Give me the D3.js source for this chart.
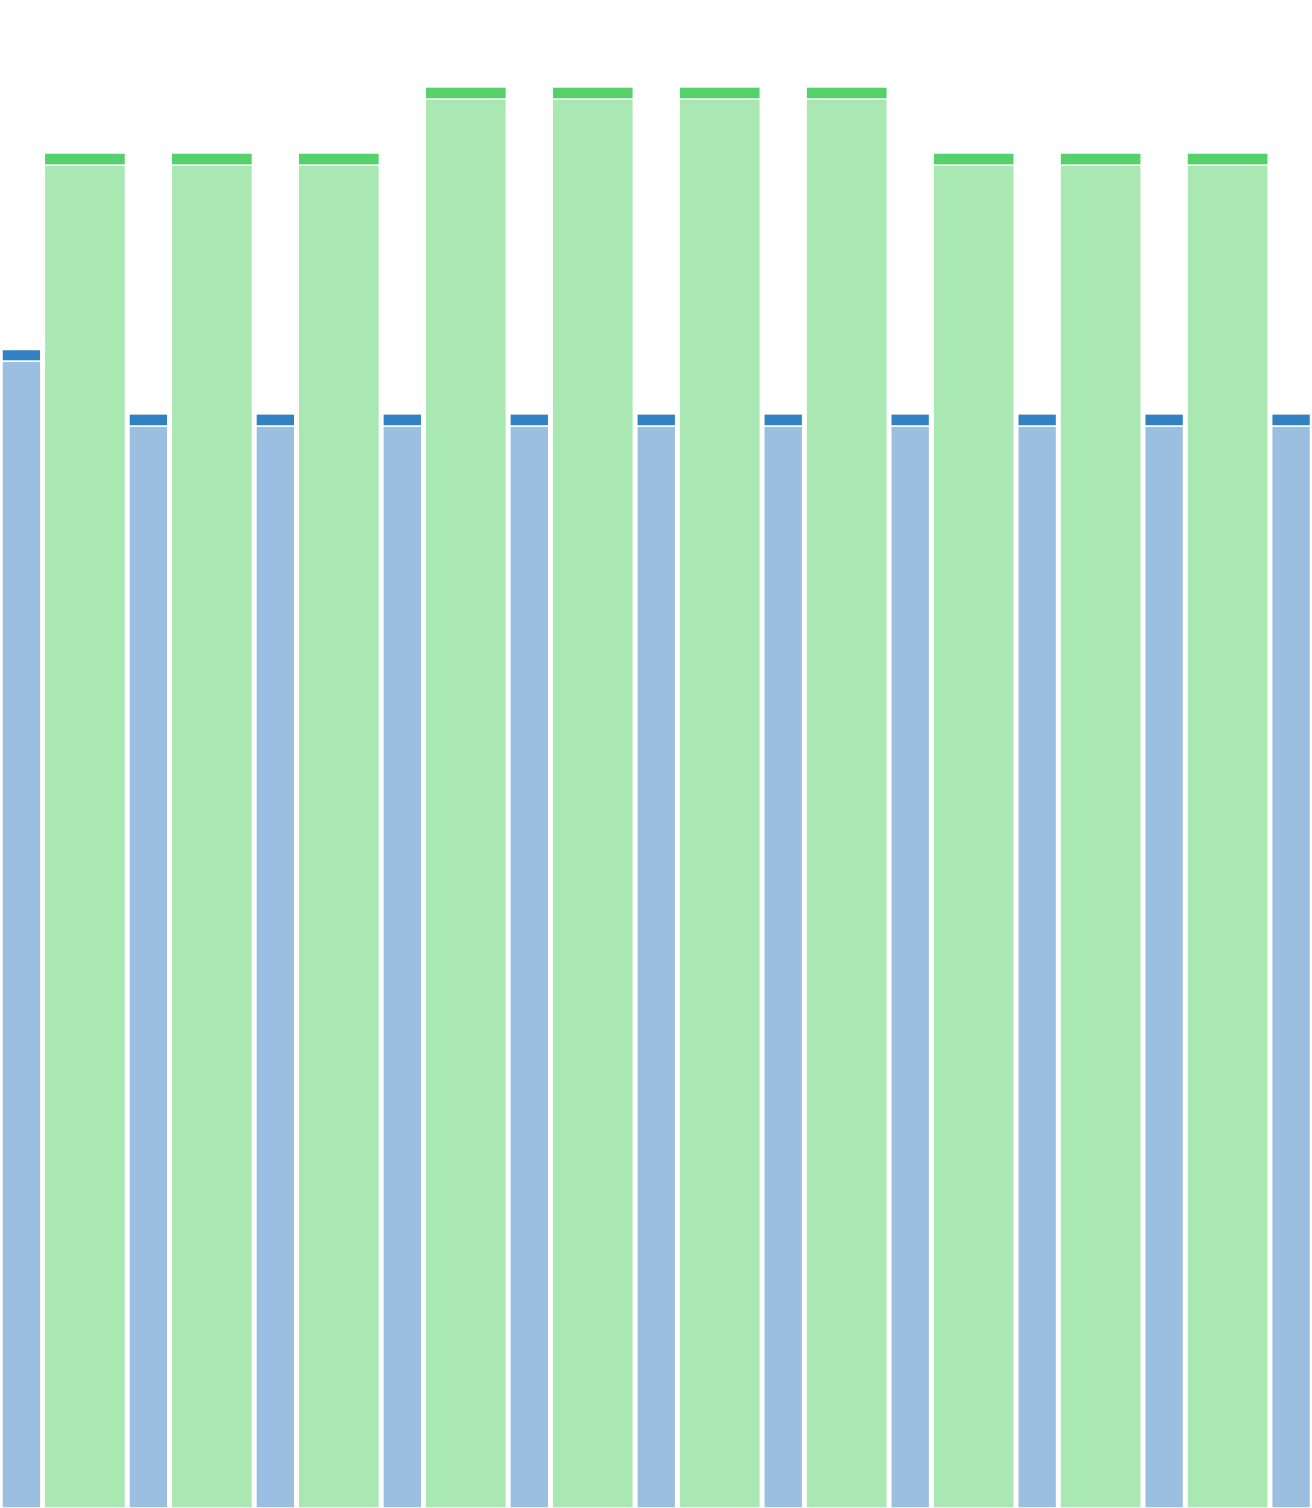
<!DOCTYPE html>
<html>
<head>
<meta charset="utf-8">
<script src="https://cdn.jsdelivr.net/npm/d3@7"></script>
<style>
  body { margin: 0; background: #fff; }
  svg { display: block; }
</style>
</head>
<body>
<div id="chart"></div>
<script>
// bar data, left to right: narrow blue bars alternate with wide green ones
const categories = ["b1","g1","b2","g2","b3","g3","b4","g4","b5","g5","b6",
                    "g6","b7","g7","b8","g8","b9","g9","b10","g10","b11"];
const kinds = categories.map(c => c[0] === "b" ? "blue" : "green");
const widthUnits = [1,2,1,2,1,2,1,2,1,2,1,2,1,2,1,2,1,2,1,2,1];
const baseValues = [104.2,122,98.3,122,98.3,122,98.3,128,98.3,128,98.3,128,98.3,128,98.3,122,98.3,122,98.3,122,98.3];
const capValues  = [1.05,1.1,1.1,1.1,1.1,1.1,1.1,1.1,1.1,1.1,1.1,1.1,1.1,1.1,1.1,1.1,1.1,1.1,1.1,1.1,1.1];

const width = 1312, height = 1508;

const colors = {
  blue:  {base: "#9bbfe0", cap: "#3182c2"},
  green: {base: "#aae8b3", cap: "#55d06b"}
};

// build rows with cumulative x position (variable width bars)
let acc = 0;
const data = categories.map((c, i) => {
  const row = {cat: c, kind: kinds[i], x0: acc, x1: acc + widthUnits[i],
               base: baseValues[i], cap: capValues[i]};
  acc += widthUnits[i];
  return row;
});

const svg = d3.select("#chart")
  .append("svg")
  .attr("width", width)
  .attr("height", height);

const x = d3.scaleLinear()
  .domain([0, d3.sum(widthUnits)])
  .range([0, width]);

const y = d3.scaleLinear()
  .domain([0, 137])
  .range([height, 0]);

const stacked = d3.stack().keys(["base", "cap"])(data);

svg.selectAll("g.layer")
  .data(stacked)
  .join("g")
  .attr("class", "layer")
  .selectAll("rect")
  .data(layer => layer.map(d => Object.assign(d, {key: layer.key})))
  .join("rect")
  .attr("x", d => x(d.data.x0) + 2)
  .attr("width", d => x(d.data.x1) - x(d.data.x0) - 3.5)
  .attr("y", d => y(d[1]))
  .attr("height", d => y(d[0]) - y(d[1]))
  .attr("fill", d => colors[d.data.kind][d.key])
  .attr("stroke", "#fff")
  .attr("stroke-width", 1.5);
</script>
</body>
</html>
